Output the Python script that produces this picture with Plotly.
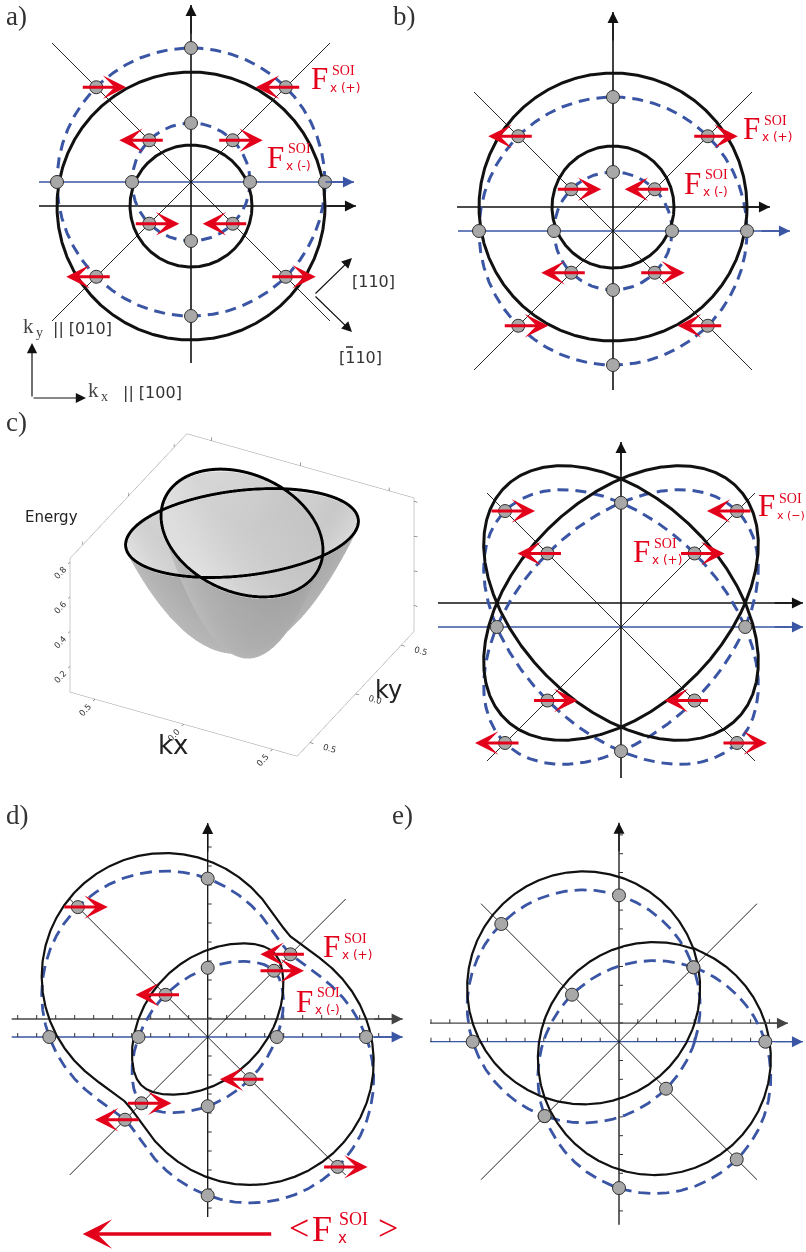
import numpy as np
import plotly.graph_objects as go

W, H = 806, 1252
RED = "#e2001a"
BLUE = "#3a55a4"
BLK = "#111111"
PT_FILL = "#a8a8a8"
SERIF = "Liberation Serif, DejaVu Serif, serif"
SANS = "DejaVu Sans, Liberation Sans, sans-serif"

# ------------------------------------------------------------------ data
axis_deg = [0, 90, 180, 270]
diag_deg = [45, 135, 225, 315]

# a), b): concentric spin-split contours (drawing units)
ab_black_radii = [134, 61]
ab_dashed_radii = [134, 59]
a_shift = -24          # centre of unshifted (black) contours vs shifted (blue) axis
b_shift = 24
a_dirs_outer = {45: -1, 135: 1, 225: -1, 315: 1}
a_dirs_inner = {45: 1, 135: -1, 225: 1, 315: -1}
b_dirs_outer = {45: 1, 135: -1, 225: 1, 315: -1}
b_dirs_inner = {45: -1, 135: 1, 225: -1, 315: 1}

# c): two anisotropic (rotated) elliptical contours
c_semi_axes = [164, 104]
c_orient_deg = [45, 135]
c_shift = 24
c_dirs_outer = {45: -1, 135: 1, 225: -1, 315: 1}
c_dirs_inner = {45: 1, 135: -1, 225: 1, 315: -1}

# d), e): Rashba + Dresselhaus contours
d_alpha, d_beta, d_kf = 36.8, 25.2, 104.7
e_alpha, e_beta, e_kf = 25.0, 25.0, 105.2
d_shift = 18
e_shift = 18.5
d_dirs_outer = {45: -1, 135: 1, 225: -1, 315: 1}
d_dirs_inner = {45: 1, 135: -1, 225: 1, 315: -1}
d_tick_step = 19.0
e_tick_step = 18.8
mean_force = -190      # <F_x^SOI> arrow (points to -x)

# c) 3D dispersion
k_tickvals = [-0.5, 0.0, 0.5]
k_ticktext = ["0.5", "0.0", "0.5"]
E_tickvals = [0.2, 0.4, 0.6, 0.8]
E_ticktext = ["0.2", "0.4", "0.6", "0.8"]
E_bottom, E_fermi = 0.12, 0.78
band3d_semi_axes = [0.6, 0.38]
band3d_orient_deg = [45, 135]

# ------------------------------------------------------------------ layout helpers
fig = go.Figure()
panels = {
    1: dict(box=(0, 403, 0, 410), origin=(191, 182)),
    2: dict(box=(403, 806, 0, 410), origin=(613, 231)),
    3: dict(box=(420, 806, 420, 792), origin=(621, 627)),
    4: dict(box=(0, 410, 792, 1252), origin=(207.7, 1037)),
    5: dict(box=(410, 806, 792, 1252), origin=(619, 1041.7)),
}
for i, p in panels.items():
    x0, x1, y0, y1 = p["box"]
    ox, oy = p["origin"]
    nm = "" if i == 1 else str(i)
    fig.update_layout(**{
        f"xaxis{nm}": dict(domain=[x0 / W, x1 / W], range=[x0 - ox, x1 - ox], visible=False,
                           fixedrange=True, anchor=f"y{nm}"),
        f"yaxis{nm}": dict(domain=[1 - y1 / H, 1 - y0 / H], range=[oy - y1, oy - y0], visible=False,
                           fixedrange=True, anchor=f"x{nm}"),
    })


def xr(i):
    return "x" if i == 1 else f"x{i}"


def yr(i):
    return "y" if i == 1 else f"y{i}"


def line(i, xs, ys, color, width, dash=None):
    fig.add_trace(go.Scatter(x=xs, y=ys, mode="lines",
                             line=dict(color=color, width=width, dash=dash),
                             xaxis=xr(i), yaxis=yr(i), hoverinfo="skip", showlegend=False))


def points(i, xs, ys):
    fig.add_trace(go.Scatter(x=xs, y=ys, mode="markers",
                             marker=dict(size=13, color=PT_FILL, line=dict(color="#303030", width=1)),
                             xaxis=xr(i), yaxis=yr(i), hoverinfo="skip", showlegend=False))


def arrow(i, x0, y0, x1, y1, color, width, size, style):
    fig.add_annotation(x=x1, y=y1, ax=x0, ay=y0, xref=xr(i), yref=yr(i),
                       axref=xr(i), ayref=yr(i), showarrow=True, arrowhead=style,
                       arrowsize=size, arrowwidth=width, arrowcolor=color, text="")


def head(i, x, y, ux, uy, color):
    arrow(i, x - 30 * ux, y - 30 * uy, x, y, color, 1.3, 1.7, 2)


def red_arrow(i, x, y, d):
    arrow(i, x - 15 * d, y, x + 30 * d, y, RED, 3, 1.3, 3)


def txt(px, py, s, size, color="#222", family=SERIF, xanchor="left"):
    fig.add_annotation(x=px / W, y=1 - py / H, xref="paper", yref="paper", text=s,
                       showarrow=False, font=dict(size=size, color=color, family=family),
                       xanchor=xanchor, yanchor="middle", borderpad=0)


def flabel(px, py, sub, s=1.0, subsize=12):
    txt(px, py, "F", 31 * s, RED, SERIF)
    txt(px + 21 * s, py - 8 * s, "SOI", 14 * s, RED, SERIF)
    txt(px + 19 * s, py + 9 * s, sub, subsize * s, RED, SANS)


def axes(i, vert, hblack, hblue, shift, width_v=1.6, black_col=BLK):
    line(i, [0, 0], list(vert), BLK, width_v)
    line(i, list(hblack), [shift, shift], black_col, 1.3)
    line(i, list(hblue), [0, 0], BLUE, 1.3)
    head(i, 0, vert[1], 0, 1, BLK)
    head(i, hblack[1], shift, 1, 0, black_col)
    head(i, hblue[1], 0, 1, 0, BLUE)


def diagonals(i, L):
    t = np.array([-L, L])
    line(i, t, -t, BLK, 0.9)
    line(i, t, t, BLK, 0.9)


TH = np.linspace(0, 2 * np.pi, 721)
DEG = np.pi / 180


def polar_xy(r, th, cy=0.0):
    return r * np.cos(th), r * np.sin(th) + cy


def ellipse_r(th, a, b, phi):
    return 1.0 / np.sqrt(np.cos(th - phi) ** 2 / a ** 2 + np.sin(th - phi) ** 2 / b ** 2)


def rd_k(th, al, be, kf, sign):
    aw = np.sqrt(al ** 2 + be ** 2 - 2 * al * be * np.sin(2 * th))
    return sign * aw + np.sqrt(aw ** 2 + kf ** 2)


DASH = "11px,7px"

# ------------------------------------------------------------------ panels a, b
for i, shift, dirs_o, dirs_i in [(1, a_shift, a_dirs_outer, a_dirs_inner),
                                 (2, b_shift, b_dirs_outer, b_dirs_inner)]:
    if i == 1:
        axes(1, (-181, 177), (-152, 165), (-152, 163), shift)
    else:
        axes(2, (-159, 219), (-156, 157), (-155, 177), shift)
    diagonals(i, 139)
    for R in ab_dashed_radii:
        x, y = polar_xy(R, TH)
        line(i, x, y, BLUE, 3, DASH)
    for R in ab_black_radii:
        x, y = polar_xy(R, TH, shift)
        line(i, x, y, BLK, 3)
    px, py = [], []
    for R in ab_dashed_radii:
        for d in axis_deg + diag_deg:
            px.append(R * np.cos(d * DEG))
            py.append(R * np.sin(d * DEG))
    points(i, px, py)
    for R, dirs in zip(ab_dashed_radii, [dirs_o, dirs_i]):
        for d in diag_deg:
            red_arrow(i, R * np.cos(d * DEG), R * np.sin(d * DEG), dirs[d])

# ------------------------------------------------------------------ panel c (2D)
axes(3, (-151, 185), (-183, 182), (-183, 182), c_shift)
diagonals(3, 134)
for phi in c_orient_deg:
    r = ellipse_r(TH, c_semi_axes[0], c_semi_axes[1], phi * DEG)
    x, y = polar_xy(r, TH)
    line(3, x, y, BLUE, 3, DASH)
for phi in c_orient_deg:
    r = ellipse_r(TH, c_semi_axes[0], c_semi_axes[1], phi * DEG)
    x, y = polar_xy(r, TH, c_shift)
    line(3, x, y, BLK, 3)
px, py = [], []
for d in axis_deg:
    r = ellipse_r(d * DEG, c_semi_axes[0], c_semi_axes[1], c_orient_deg[0] * DEG)
    px.append(r * np.cos(d * DEG)); py.append(r * np.sin(d * DEG))
for d in diag_deg:
    for phi in c_orient_deg:
        r = ellipse_r(d * DEG, c_semi_axes[0], c_semi_axes[1], phi * DEG)
        px.append(r * np.cos(d * DEG)); py.append(r * np.sin(d * DEG))
points(3, px, py)
for d in diag_deg:
    r_out = ellipse_r(d * DEG, c_semi_axes[0], c_semi_axes[1], d * DEG)
    r_in = ellipse_r(d * DEG, c_semi_axes[0], c_semi_axes[1], (d + 90) * DEG)
    red_arrow(3, r_out * np.cos(d * DEG), r_out * np.sin(d * DEG), c_dirs_outer[d])
    red_arrow(3, r_in * np.cos(d * DEG), r_in * np.sin(d * DEG), c_dirs_inner[d])


# ------------------------------------------------------------------ panels d, e
def ticks(i, step, hx, vy, shift):
    xs, ys = [], []
    n0, n1 = int(np.ceil(hx[0] / step)), int(np.floor((hx[1] - 8) / step))
    for n in range(n0, n1 + 1):
        if n == 0:
            continue
        for yy in (0, shift):
            xs += [n * step, n * step, None]
            ys += [yy, yy + 4, None]
    m0, m1 = int(np.ceil(vy[0] / step)), int(np.floor((vy[1] - 8) / step))
    for n in range(m0, m1 + 1):
        if n == 0:
            continue
        xs += [0, 4, None]
        ys += [n * step, n * step, None]
    fig.add_trace(go.Scatter(x=xs, y=ys, mode="lines", line=dict(color="#333", width=1),
                             xaxis=xr(i), yaxis=yr(i), hoverinfo="skip", showlegend=False))


for i, al, be, kf, shift, step in [(4, d_alpha, d_beta, d_kf, d_shift, d_tick_step),
                                   (5, e_alpha, e_beta, e_kf, e_shift, e_tick_step)]:
    if i == 4:
        vert, hb, hbl = (-180, 214), (-196, 195), (-196, 195)
    else:
        vert, hb, hbl = (-183, 219), (-189, 169), (-189, 184)
    axes(i, vert, hb, hbl, shift, width_v=1.3, black_col="#444")
    ticks(i, step, hb, vert, shift)
    diagonals(i, 138)
    for sgn in (1, -1):
        r = rd_k(TH, al, be, kf, sgn)
        x, y = polar_xy(r, TH)
        line(i, x, y, BLUE, 2.8, "12px,7px")
    for sgn in (1, -1):
        r = rd_k(TH, al, be, kf, sgn)
        x, y = polar_xy(r, TH, shift)
        line(i, x, y, BLK, 2.2)
    px, py = [], []
    for d in axis_deg:
        sgns = (1, -1) if i == 4 else (1,)
        for sgn in sgns:
            r = rd_k(d * DEG, al, be, kf, sgn)
            px.append(r * np.cos(d * DEG)); py.append(r * np.sin(d * DEG))
    for d in diag_deg:
        for sgn in (1, -1):
            r = rd_k(d * DEG, al, be, kf, sgn)
            px.append(r * np.cos(d * DEG)); py.append(r * np.sin(d * DEG))
    points(i, px, py)
    if i == 4:
        for d in diag_deg:
            for sgn, dirs in [(1, d_dirs_outer), (-1, d_dirs_inner)]:
                r = rd_k(d * DEG, al, be, kf, sgn)
                red_arrow(4, r * np.cos(d * DEG), r * np.sin(d * DEG), dirs[d])

# mean force arrow (panel d)
arrow(4, 65, -197, 65 + mean_force, -197, RED, 3.5, 1.4, 3)

# ------------------------------------------------------------------ panel a extras
arrow(1, -159, -216, -159, -161, BLK, 1.2, 1.7, 2)
arrow(1, -159, -216, -105, -216, BLK, 1.2, 1.7, 2)
arrow(1, 123, -113, 161, -76, BLK, 1.2, 1.7, 2)
arrow(1, 123, -113, 161, -150, BLK, 1.2, 1.7, 2)
line(1, [155, 162], [-165, -165], "#333", 1.6)   # overline of the "1" in [1-10]

# ------------------------------------------------------------------ 3D band (panel c left)
for phi in band3d_orient_deg:
    rr = np.linspace(0, 1, 30)
    tt = np.linspace(0, 2 * np.pi, 90)
    R_, T_ = np.meshgrid(rr, tt)
    u = R_ * band3d_semi_axes[0] * np.cos(T_)
    v = R_ * band3d_semi_axes[1] * np.sin(T_)
    ph = phi * DEG
    kx = u * np.cos(ph) - v * np.sin(ph)
    ky = u * np.sin(ph) + v * np.cos(ph)
    ez = E_bottom + (E_fermi - E_bottom) * R_ ** 2
    fig.add_trace(go.Surface(x=kx, y=ky, z=ez, colorscale=[[0, "#bcbcbc"], [1, "#f7f7f7"]],
                             surfacecolor=-kx + ky, showscale=False, opacity=0.9,
                             lighting=dict(ambient=0.85, diffuse=0.45, specular=0.05, roughness=0.9),
                             hoverinfo="skip", scene="scene"))
for phi in band3d_orient_deg:
    ph = phi * DEG
    tt = np.linspace(0, 2 * np.pi, 200)
    u = band3d_semi_axes[0] * np.cos(tt)
    v = band3d_semi_axes[1] * np.sin(tt)
    fig.add_trace(go.Scatter3d(x=u * np.cos(ph) - v * np.sin(ph), y=u * np.sin(ph) + v * np.cos(ph),
                               z=np.full_like(tt, E_fermi + 0.012), mode="lines",
                               line=dict(color="black", width=6), hoverinfo="skip",
                               showlegend=False, scene="scene"))

ax3 = dict(showgrid=False, showbackground=False, showline=True, linecolor="#999", mirror="all",
           ticks="outside", ticklen=4, tickcolor="#333", tickfont=dict(size=10, color="#333", family=SANS),
           title=dict(text=""), showspikes=False, zeroline=False)
fig.update_layout(scene=dict(
    domain=dict(x=[32 / W, 452 / W], y=[1 - 790 / H, 1 - 400 / H]),
    xaxis=dict(ax3, range=[-0.64, 0.64], tickvals=k_tickvals, ticktext=k_ticktext),
    yaxis=dict(ax3, range=[-0.64, 0.64], tickvals=k_tickvals, ticktext=k_ticktext),
    zaxis=dict(ax3, range=[0.05, 0.82], tickvals=E_tickvals, ticktext=E_ticktext),
    aspectmode="manual", aspectratio=dict(x=1.31, y=1.31, z=0.82),
    camera=dict(eye=dict(x=0.291, y=-0.566, z=0.418), up=dict(x=0, y=0, z=1),
                center=dict(x=0, y=0, z=0), projection=dict(type="orthographic")),
))

# ------------------------------------------------------------------ texts
for lab, x, y in [("a)", 5, 16), ("b)", 392, 16), ("c)", 5, 422), ("d)", 5, 815), ("e)", 391, 815)]:
    txt(x, y, lab, 27, "#333", SERIF)

flabel(310, 79, "x (+)")
flabel(266, 157, "x (-)")
flabel(742, 128, "x (+)")
flabel(683, 183, "x (-)")
flabel(757, 506, "x (\u2212)", subsize=11)
flabel(632, 551, "x (+)")
flabel(322, 946, "x (+)")
flabel(295, 1001, "x (-)")

# mean force label
txt(288, 1228, "&lt;", 36, RED, SERIF)
txt(311, 1229, "F", 36, RED, SERIF)
txt(338, 1219, "SOI", 18, RED, SERIF)
txt(337, 1238, "x", 15, RED, SANS)
txt(377, 1228, "&gt;", 36, RED, SERIF)

# inset labels in a)
txt(22, 326, "k", 21, "#444", SERIF)
txt(35, 332, "y", 14, "#444", SERIF)
txt(52, 328, "|| [010]", 16, "#333", SANS)
txt(87, 390, "k", 21, "#444", SERIF)
txt(100, 396, "x", 14, "#444", SERIF)
txt(122, 392, "|| [100]", 16, "#333", SANS)
txt(351, 281, "[110]", 16, "#333", SANS)
txt(338, 357, "[110]", 16, "#333", SANS)

# 3D axis titles
txt(24, 517, "Energy", 15, "#222", SANS)
txt(157, 745, "kx", 26, "#222", SANS)
txt(374, 690, "ky", 24, "#222", SANS)

fig.update_layout(width=W, height=H, margin=dict(l=0, r=0, t=0, b=0, pad=0),
                  paper_bgcolor="white", plot_bgcolor="rgba(0,0,0,0)", showlegend=False)
fig.write_html("out.html", config={"displayModeBar": False},
               post_script="document.body.style.margin='0px';document.body.style.overflow='hidden';")
